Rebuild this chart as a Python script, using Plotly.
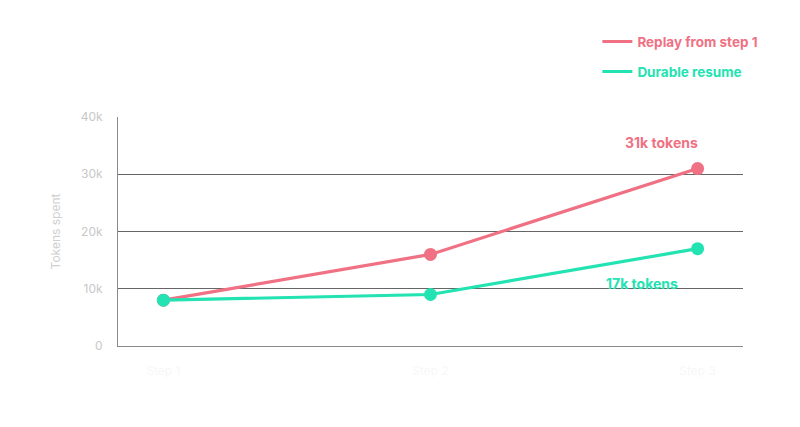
import plotly.graph_objects as go

# data
steps = ["Step 1", "Step 2", "Step 3"]
replay_tokens = [8000, 16000, 31000]
durable_tokens = [8000, 9000, 17000]
y_ticks = [0, 10000, 20000, 30000, 40000]
y_labels = ["0", "10k", "20k", "30k", "40k"]

red = "#ef7183"
green = "#22e3b1"
font = "Inter"

fig = go.Figure()
fig.add_trace(go.Scatter(x=steps, y=replay_tokens, showlegend=False, mode="lines+markers",
                         line=dict(color=red, width=3.2), marker=dict(size=13, color=red)))
fig.add_trace(go.Scatter(x=steps, y=durable_tokens, showlegend=False, mode="lines+markers",
                         line=dict(color=green, width=3.2), marker=dict(size=13, color=green)))
# legend entries with line only
fig.add_trace(go.Scatter(x=[None], y=[None], name="<b>Replay from step 1</b>", mode="lines",
                         legend="legend", line=dict(color=red, width=3)))
fig.add_trace(go.Scatter(x=[None], y=[None], name="<b>Durable resume</b>", mode="lines",
                         legend="legend2", line=dict(color=green, width=3)))

fig.add_annotation(x=steps[2], y=replay_tokens[2], text="<b>31k tokens</b>", showarrow=False,
                   xshift=-36, yshift=26, font=dict(color=red, size=14, family=font))
fig.add_annotation(x=steps[2], y=durable_tokens[2], text="<b>17k tokens</b>", showarrow=False,
                   xshift=-56, yshift=-35, font=dict(color=green, size=14, family=font))

legend_style = dict(x=0.767, xanchor="left", yanchor="middle", bgcolor="rgba(0,0,0,0)",
                    font=dict(size=13.5, family=font), itemwidth=30)

fig.update_layout(
    width=800, height=427,
    margin=dict(l=110, r=65, t=109, b=89),
    paper_bgcolor="white", plot_bgcolor="white",
    font=dict(family=font, color="#c8c8c8", size=12),
    showlegend=True,
    legend=dict(y=1.329, **legend_style),
    legend2=dict(y=1.198, **legend_style),
    xaxis=dict(range=[-0.17, 2.17], showgrid=False, showline=True, linecolor="#8a8a8a",
               linewidth=1, ticks="", ticklabelstandoff=14,
               tickfont=dict(color="#f7f7f7", size=12)),
    yaxis=dict(range=[0, 40000], tickvals=y_ticks, ticktext=y_labels, showgrid=True,
               gridcolor="#666666", gridwidth=1.3, showline=True, linecolor="#8a8a8a",
               linewidth=1, zeroline=False, ticks="", ticklabelstandoff=12,
               title=dict(text="Tokens spent", font=dict(color="#d0d0d0", size=12), standoff=17)),
)
fig.update_layout(legend_font_color=red, legend2_font_color=green)

fig.write_html("out.html")
